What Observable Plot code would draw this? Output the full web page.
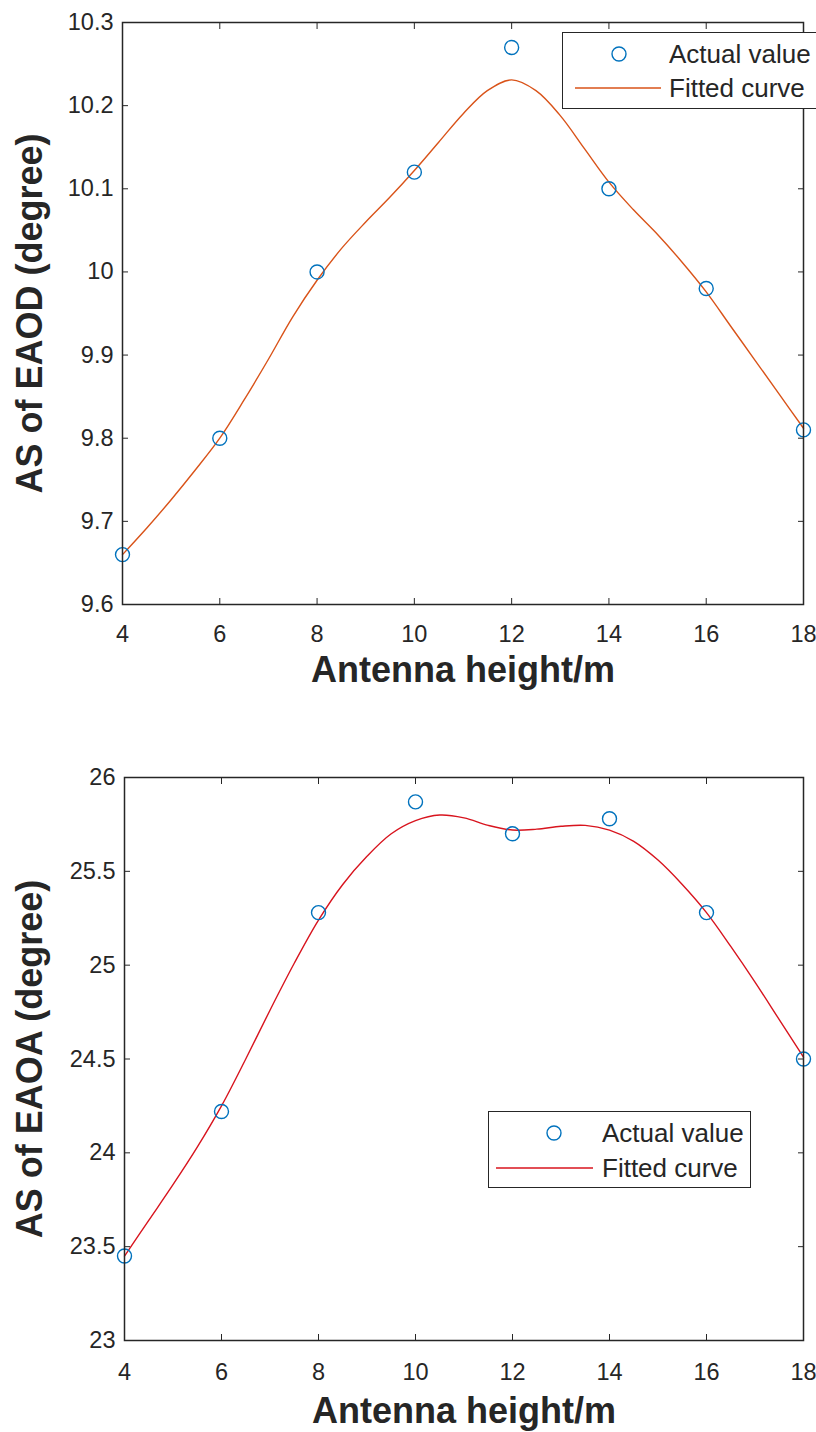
<!DOCTYPE html>
<html>
<head>
<meta charset="utf-8">
<script src="https://cdn.jsdelivr.net/npm/d3@7"></script>
<script src="https://cdn.jsdelivr.net/npm/@observablehq/plot@0.6"></script>
<style>
  html, body { margin: 0; padding: 0; background: #fff; }
  #wrap { position: relative; width: 816px; height: 1432px; overflow: hidden; background: #fff;
          font-family: "Liberation Sans", Arial, Helvetica, sans-serif; color: #262626; }
  #wrap > svg { position: absolute; left: 0; display: block; }
  .legend { position: absolute; background: #fff; border: 1.4px solid #262626; box-sizing: border-box; }
  .legend svg { position: absolute; left: 0; top: 0; }
  .legend .lab { position: absolute; font-size: 26px; line-height: 1; white-space: nowrap; color: #262626; }
</style>
</head>
<body>
<div id="wrap"></div>
<script>
// ---------- data ----------
const heights = [4, 6, 8, 10, 12, 14, 16, 18];
const xTicks = [4, 6, 8, 10, 12, 14, 16, 18];

const eaodActual = [9.66, 9.80, 10.00, 10.12, 10.27, 10.10, 9.98, 9.81];
const eaoaActual = [23.45, 24.22, 25.28, 25.87, 25.70, 25.78, 25.28, 24.50];

const fitX = [4, 4.5, 5, 5.5, 6, 6.5, 7, 7.5, 8, 8.5, 9, 9.5, 10, 10.5, 11, 11.5, 12,
              12.5, 13, 13.5, 14, 14.5, 15, 15.5, 16, 16.5, 17, 17.5, 18];
const eaodFit = [9.66, 9.692, 9.726, 9.762, 9.80, 9.846, 9.895, 9.946, 9.99, 10.028, 10.06, 10.09,
                 10.122, 10.156, 10.19, 10.218, 10.231, 10.218, 10.188, 10.148, 10.108, 10.075, 10.045,
                 10.012, 9.976, 9.935, 9.894, 9.853, 9.812];
const eaoaFit = [23.45, 23.64, 23.83, 24.03, 24.25, 24.50, 24.76, 25.01, 25.24, 25.43, 25.58, 25.70,
                 25.77, 25.80, 25.785, 25.745, 25.72, 25.725, 25.74, 25.745, 25.72, 25.66, 25.56,
                 25.43, 25.28, 25.10, 24.91, 24.71, 24.51];

const eaodTicks = [9.6, 9.7, 9.8, 9.9, 10.0, 10.1, 10.2, 10.3];
const eaoaTicks = [23, 23.5, 24, 24.5, 25, 25.5, 26];

const xLabel = "Antenna height/m";
const eaodLabel = "AS of EAOD (degree)";
const eaoaLabel = "AS of EAOA (degree)";
const legendLabels = ["Actual value", "Fitted curve"];

const markerColor = "#0072BD";
const eaodColor = "#D95319";
const eaoaColor = "#D8141E";
const axisColor = "#262626";

// ---------- drawing ----------
const fmt = d => String(+(+d).toFixed(2));
const wrap = document.getElementById("wrap");

function makeChart(o) {
  const pts = heights.map((h, i) => ({h, v: o.actual[i]}));
  const curve = fitX.map((h, i) => ({h, v: o.fit[i]}));
  return Plot.plot({
    width: 816,
    height: o.height,
    marginTop: o.marginTop,
    marginBottom: o.marginBottom,
    marginLeft: o.marginLeft,
    marginRight: 13,
    style: {fontFamily: '"Liberation Sans", Arial, sans-serif', fontSize: "23.5px", color: axisColor,
            background: "#fff", overflow: "visible"},
    x: {domain: [4, 18]},
    y: {domain: o.yDomain},
    marks: [
      Plot.line(curve, {x: "h", y: "v", stroke: o.lineColor, strokeWidth: 1.4, curve: "catmull-rom"}),
      Plot.dot(pts, {x: "h", y: "v", r: 7, stroke: markerColor, strokeWidth: 1.4, fill: "none"}),
      Plot.frame({stroke: axisColor, strokeWidth: 1.5}),
      Plot.axisX({ticks: xTicks, tickSize: -6, tickPadding: o.xTickPad, tickFormat: fmt, label: null}),
      Plot.axisX({anchor: "top", ticks: xTicks, tickSize: -6, fill: "none", label: null}),
      Plot.axisY({ticks: o.yTicks, tickSize: -6, tickPadding: 15, tickFormat: fmt, label: null}),
      Plot.axisY({anchor: "right", ticks: o.yTicks, tickSize: -6, fill: "none", label: null}),
      Plot.axisX({ticks: [], tickSize: 0, label: xLabel, labelAnchor: "center", labelArrow: "none",
                  labelOffset: o.xLabelOffset, fontSize: 36, fontWeight: "bold"}),
      Plot.axisY({ticks: [], tickSize: 0, label: o.yLabel, labelAnchor: "center", labelArrow: "none",
                  labelOffset: o.yLabelOffset, fontSize: 36, fontWeight: "bold"})
    ]
  });
}

function addLegend(o) {
  const div = document.createElement("div");
  div.className = "legend";
  Object.assign(div.style, {left: o.left + "px", top: o.top + "px", width: o.width + "px", height: o.height + "px"});
  const svg = d3.create("svg").attr("width", o.width).attr("height", o.height);
  svg.append("circle").attr("cx", o.markX).attr("cy", o.row1).attr("r", 7)
     .attr("fill", "none").attr("stroke", markerColor).attr("stroke-width", 1.4);
  svg.append("line").attr("x1", o.lineX1).attr("x2", o.lineX2).attr("y1", o.row2).attr("y2", o.row2)
     .attr("stroke", o.lineColor).attr("stroke-width", 1.5);
  div.appendChild(svg.node());
  [o.row1, o.row2].forEach((r, i) => {
    const s = document.createElement("div");
    s.className = "lab";
    s.textContent = legendLabels[i];
    Object.assign(s.style, {left: o.textX + "px", top: (r - 13) + "px"});
    div.appendChild(s);
  });
  wrap.appendChild(div);
}

const chartTop = makeChart({actual: eaodActual, fit: eaodFit, yDomain: [9.6, 10.3], yTicks: eaodTicks,
  yLabel: eaodLabel, lineColor: eaodColor, height: 690, marginTop: 22, marginBottom: 86,
  marginLeft: 122, yLabelOffset: 106, xLabelOffset: 77, xTickPad: 27});
chartTop.style.top = "0px";
wrap.appendChild(chartTop);

const chartBottom = makeChart({actual: eaoaActual, fit: eaoaFit, yDomain: [23, 26], yTicks: eaoaTicks,
  yLabel: eaoaLabel, lineColor: eaoaColor, height: 742, marginTop: 87, marginBottom: 92,
  marginLeft: 124, yLabelOffset: 108, xLabelOffset: 82, xTickPad: 29});
chartBottom.style.top = "690px";
wrap.appendChild(chartBottom);

addLegend({left: 562, top: 32, width: 270, height: 77, markX: 56, row1: 21, row2: 55,
           lineX1: 12, lineX2: 98, textX: 106, lineColor: eaodColor});
addLegend({left: 488, top: 1111, width: 263, height: 77, markX: 65, row1: 21, row2: 56,
           lineX1: 7, lineX2: 104, textX: 113, lineColor: eaoaColor});
</script>
</body>
</html>
